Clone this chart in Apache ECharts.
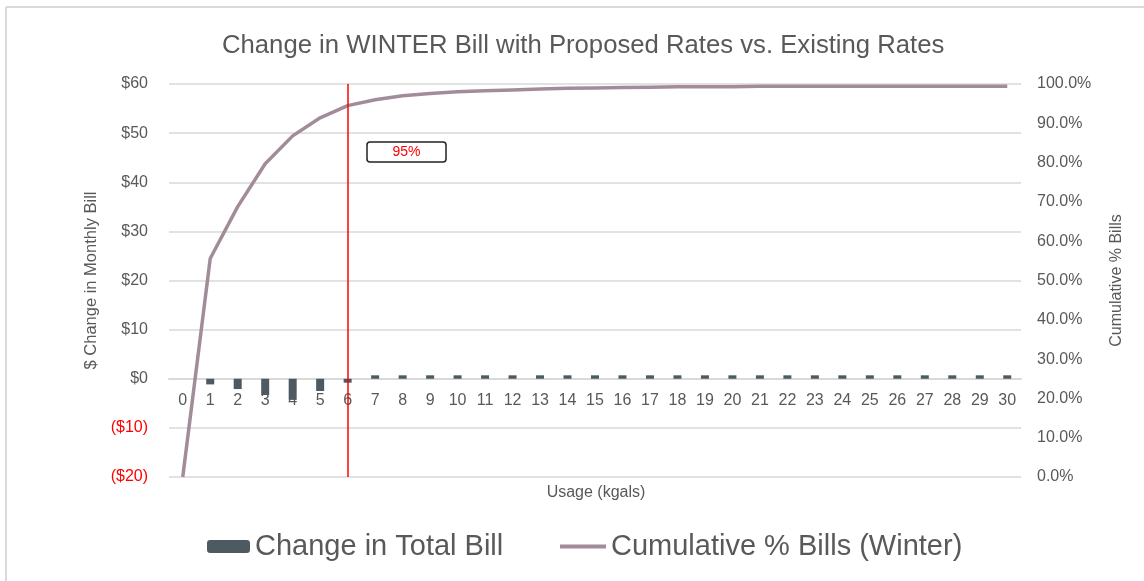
<!DOCTYPE html>
<html>
<head>
<meta charset="utf-8">
<script src="https://cdn.jsdelivr.net/npm/echarts@6/dist/echarts.min.js"></script>
<style>html,body{margin:0;padding:0;background:#fff;}#c{width:1144px;height:581px;}</style>
</head>
<body>
<div id="c"></div>
<script>
const categories = ['0','1','2','3','4','5','6','7','8','9','10','11','12','13','14','15','16','17','18','19','20','21','22','23','24','25','26','27','28','29','30'];
const changeInTotalBill = [0, -1.15, -2.1, -3.3, -4.3, -2.5, -0.8, 0.7, 0.7, 0.7, 0.7, 0.7, 0.7, 0.7, 0.7, 0.7, 0.7, 0.7, 0.7, 0.7, 0.7, 0.7, 0.7, 0.7, 0.7, 0.7, 0.7, 0.7, 0.7, 0.7, 0.7];
const cumulativePct = [0, 55.6, 68.8, 79.7, 86.8, 91.4, 94.5, 96.0, 97.0, 97.6, 98.0, 98.3, 98.5, 98.7, 98.9, 99.0, 99.1, 99.2, 99.3, 99.3, 99.3, 99.4, 99.4, 99.4, 99.4, 99.4, 99.4, 99.4, 99.4, 99.4, 99.4];
const leftTicks = {min: -20, max: 60, interval: 10};
const rightTicks = {min: 0, max: 100, interval: 10};
const markerCategory = '6';
const markerLabel = '95%';

const FONT = '"Liberation Sans", Arial, sans-serif';
const GREY = '#595959';
const chart = echarts.init(document.getElementById('c'));
chart.setOption({
  backgroundColor: '#fff',
  animation: false,
  textStyle: {fontFamily: FONT},
  title: {
    text: 'Change in WINTER Bill with Proposed Rates vs. Existing Rates',
    left: 217, top: 28,
    textStyle: {fontFamily: FONT, fontSize: 25.7, fontWeight: 'normal', color: GREY}
  },
  grid: {left: 169, right: 123, top: 84, bottom: 104},
  legend: [
    {data: ['Change in Total Bill'], left: 207, top: 532, padding: 0, itemWidth: 43, itemHeight: 13, itemGap: 5,
     textStyle: {fontFamily: FONT, fontSize: 29, color: GREY}},
    {data: [{name: 'Cumulative % Bills (Winter)', icon: 'rect'}], left: 560, top: 532, padding: 0, itemWidth: 46, itemHeight: 4,
     textStyle: {fontFamily: FONT, fontSize: 29, color: GREY}}
  ],
  xAxis: {
    type: 'category', data: categories,
    axisLine: {onZero: true, onZeroAxisIndex: 0, lineStyle: {color: '#d9d9d9', width: 2}},
    axisTick: {show: false},
    axisLabel: {color: GREY, fontSize: 16, margin: -84, interval: 0, fontFamily: FONT}
  },
  yAxis: [
    {type: 'value', min: leftTicks.min, max: leftTicks.max, interval: leftTicks.interval,
     name: '$ Change in Monthly Bill', nameLocation: 'middle', nameRotate: 90, nameGap: 58,
     nameTextStyle: {color: GREY, fontSize: 16.5, fontFamily: FONT},
     axisLine: {show: false}, axisTick: {show: false},
     splitLine: {lineStyle: {color: '#d9d9d9', width: 1.5}},
     axisLabel: {margin: 21, fontSize: 16, color: GREY, fontFamily: FONT,
       formatter: v => v < 0 ? '{neg|($' + Math.abs(v) + ')}' : '$' + v,
       rich: {neg: {color: '#ff0000', fontSize: 16, fontFamily: FONT}}}},
    {type: 'value', min: rightTicks.min, max: rightTicks.max, interval: rightTicks.interval, position: 'right',
     name: 'Cumulative % Bills', nameLocation: 'middle', nameRotate: 90, nameGap: 88,
     nameTextStyle: {color: GREY, fontSize: 16, fontFamily: FONT},
     axisLine: {show: false}, axisTick: {show: false}, splitLine: {show: false},
     axisLabel: {margin: 16, fontSize: 16, color: GREY, fontFamily: FONT, formatter: v => v.toFixed(1) + '%'}}
  ],
  series: [
    {name: 'Change in Total Bill', type: 'bar', data: changeInTotalBill, barWidth: 8,
     itemStyle: {color: '#4d5a61'}, z: 2,
     markLine: {silent: true, symbol: 'none', label: {show: false},
       lineStyle: {color: '#ff0000', width: 1.5, type: 'solid'},
       data: [{xAxis: markerCategory}]}},
    {name: 'Cumulative % Bills (Winter)', type: 'line', yAxisIndex: 1, data: cumulativePct,
     showSymbol: false, symbol: 'none', lineStyle: {color: '#a38c99', width: 3.5}, itemStyle: {color: '#a38c99'}, z: 3}
  ],
  graphic: [
    {type: 'line', shape: {x1: 6, y1: 7, x2: 1144, y2: 7}, style: {stroke: '#d9d9d9', lineWidth: 2}},
    {type: 'line', shape: {x1: 6, y1: 7, x2: 6, y2: 581}, style: {stroke: '#d9d9d9', lineWidth: 2}},
    {type: 'rect', shape: {x: 367, y: 142, width: 79, height: 20, r: 3}, style: {fill: '#fff', stroke: '#222', lineWidth: 1.5}, z: 10},
    {type: 'text', x: 406.5, y: 152, style: {text: markerLabel, fill: '#ff0000', font: '14px ' + FONT, align: 'center', verticalAlign: 'middle'}, z: 11},
    {type: 'text', x: 596, y: 493, style: {text: 'Usage (kgals)', fill: GREY, font: '16px ' + FONT, align: 'center', verticalAlign: 'middle'}}
  ]
});
</script>
</body>
</html>
